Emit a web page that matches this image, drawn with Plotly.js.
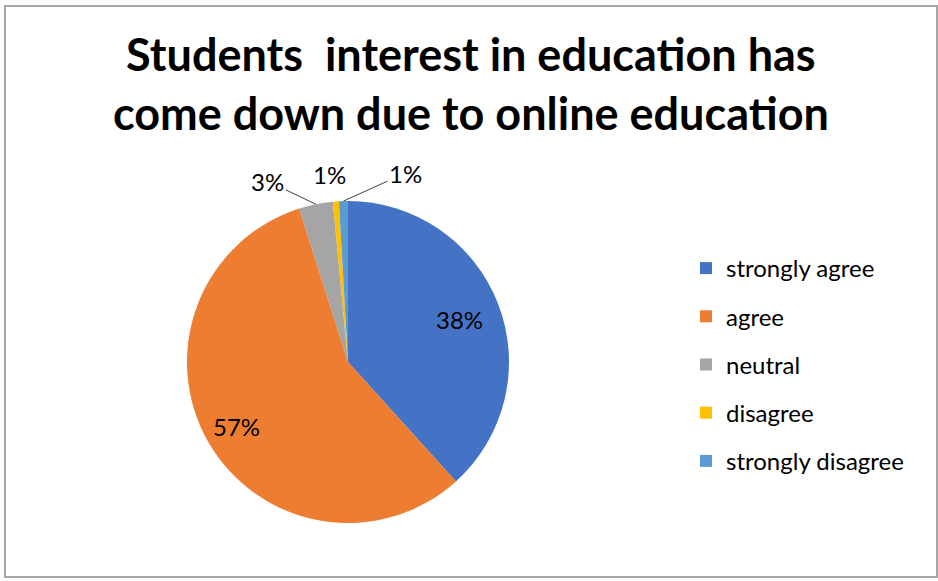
<!DOCTYPE html>
<html>
<head>
<meta charset="utf-8">
<script src="https://cdn.plot.ly/plotly-3.0.1.min.js"></script>
<style>
  html, body { margin: 0; padding: 0; background: #ffffff; }
  #wrap { position: relative; width: 938px; height: 581px; }
  #chart { position: absolute; left: 0; top: 0; width: 938px; height: 581px; }
  #frame { position: absolute; left: 4px; top: 5px; width: 930px; height: 569px;
           border: 2px solid #a6a6a6; pointer-events: none; }
</style>
</head>
<body>
<div id="wrap">
  <div id="chart"></div>
  <div id="frame"></div>
</div>
<script>
// ---- data ----
var categories = ['strongly agree', 'agree', 'neutral', 'disagree', 'strongly disagree'];
var shares = [38.3, 56.8, 3.4, 0.6, 0.9];
var sliceColors = ['#4472C4', '#ED7D31', '#A5A5A5', '#FFC000', '#5B9BD5'];
var chartTitle = 'Students  interest in education has<br>come down due to online education';

// ---- styling / placement ----
var W = 938, H = 581;
var FONT = 'Lato, "Open Sans", sans-serif';
var pieDomain = { x: [187 / W, 509 / W], y: [1 - 523 / H, 1 - 201 / H] };
// label placement per slice: null = inside at a radial fraction; [ax, ay] = outside offset (px)
var insideRadius = [0.74, 0.8];
var labelOffsets = [null, null, [-48, -23], [-6, -27], [62, -28]];
var showLeader = [false, false, true, false, true];

var total = shares.reduce(function (a, b) { return a + b; }, 0);
var cx = (pieDomain.x[0] + pieDomain.x[1]) / 2;            // paper fraction
var cy = (pieDomain.y[0] + pieDomain.y[1]) / 2;
var Rpx = (pieDomain.x[1] - pieDomain.x[0]) * W / 2;       // pixels

var annotations = [];
var cum = 0;
shares.forEach(function (v, i) {
  var mid = (cum + v / 2) / total;                 // fraction of turn, clockwise from 12 o'clock
  cum += v;
  var ang = mid * 2 * Math.PI;
  var pct = Math.round(v / total * 100) + '%';
  var off = labelOffsets[i];
  var r = off ? Rpx : Rpx * insideRadius[i];
  var px = cx + r * Math.sin(ang) / W;
  var py = cy + r * Math.cos(ang) / H;
  var a = {
    xref: 'paper', yref: 'paper', x: px, y: py,
    text: pct, font: { family: FONT, size: 24, color: '#000000' },
    xanchor: 'center', yanchor: 'middle'
  };
  if (off) {
    a.showarrow = true;
    a.ax = off[0]; a.ay = off[1];
    a.arrowhead = 0; a.arrowwidth = 1; a.standoff = 0;
    a.arrowcolor = showLeader[i] ? '#404040' : 'rgba(0,0,0,0)';
  } else {
    a.showarrow = false;
  }
  annotations.push(a);
});

var pieTrace = {
  type: 'pie',
  labels: categories,
  values: shares,
  sort: false,
  direction: 'clockwise',
  rotation: 0,
  marker: { colors: sliceColors, line: { width: 0 } },
  textinfo: 'none',
  domain: pieDomain,
  showlegend: false,
  hoverinfo: 'none'
};

// legend entries (one per category) so the entries can be spaced like the original
var legendTraces = categories.map(function (c, i) {
  return {
    type: 'scatter', mode: 'markers', x: [null], y: [null],
    name: c, legendgroup: 'g' + i, showlegend: true,
    marker: { symbol: 'square', size: 12, color: sliceColors[i] },
    hoverinfo: 'none'
  };
});

var layout = {
  width: W,
  height: H,
  margin: { l: 0, r: 0, t: 0, b: 0 },
  paper_bgcolor: '#ffffff',
  plot_bgcolor: 'rgba(0,0,0,0)',
  xaxis: { visible: false },
  yaxis: { visible: false },
  title: {
    text: chartTitle,
    font: { family: FONT, size: 45, color: '#000000', weight: 'bold' },
    x: 0.502,
    xanchor: 'center',
    y: 1 - 71 / H,
    yanchor: 'top',
    yref: 'container'
  },
  showlegend: true,
  legend: {
    x: 686 / W,
    xanchor: 'left',
    y: 1 - 246 / H,
    yanchor: 'top',
    tracegroupgap: 14,
    font: { family: FONT, size: 24, color: '#000000' },
    bgcolor: 'rgba(0,0,0,0)'
  },
  annotations: annotations
};

Plotly.newPlot('chart', [pieTrace].concat(legendTraces), layout, { staticPlot: true, displayModeBar: false });
</script>
</body>
</html>
